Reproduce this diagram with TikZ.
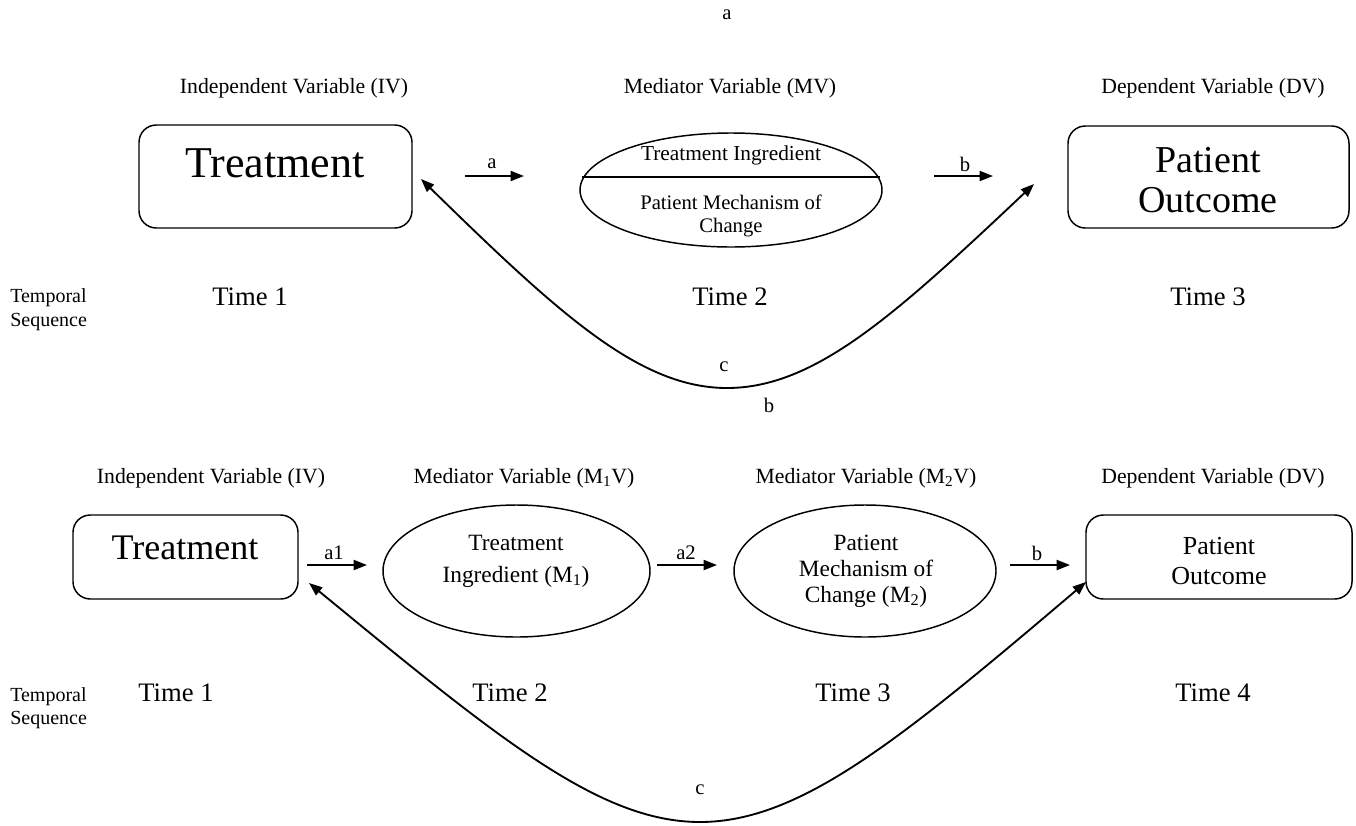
\documentclass[tikz,border=0pt]{standalone}
\usepackage{fontspec}
\setmainfont{Liberation Serif}
\usetikzlibrary{arrows.meta,calc,shapes.geometric}
\begin{document}
\begin{tikzpicture}[x=0.75pt,y=-0.75pt,
 box/.style={draw,line width=1.1pt,rounded corners=13pt,inner sep=0pt,align=center},
 ell/.style={draw,ellipse,line width=1.1pt,inner sep=0pt},
 arr/.style={line width=1.4pt,-{Triangle[length=10pt,width=7.5pt]}},
 curv/.style={line width=1.4pt,{Triangle[length=10pt,width=7.5pt]}-{Triangle[length=10pt,width=7.5pt]}},
 lbl/.style={font=\fontsize{15.5}{18}\selectfont,inner sep=0pt},
 hdr/.style={font=\fontsize{16.3}{19}\selectfont,inner sep=0pt},
 tim/.style={font=\fontsize{20}{24}\selectfont,inner sep=0pt},
 tmp/.style={font=\fontsize{15}{18}\selectfont,inner sep=0pt,align=left,anchor=west},
 txt/.style={inner sep=0pt,align=center}
]
\useasboundingbox (0,0) rectangle (1356,825);

% ---------- panel a ----------
\node[lbl] (capa) at (727,15) {a};
\node[hdr] (h1) at (294,88) {Independent Variable (IV)};
\node[hdr] (h2) at (730,88) {Mediator Variable (MV)};
\node[hdr] (h3) at (1213,88) {Dependent Variable (DV)};

\node[box,minimum width=204.75pt,minimum height=77.25pt] (tr) at (275.5,176.5) {};
\node[txt,font=\fontsize{33}{36}\selectfont] (trt) at (275,163) {Treatment};
\node[ell,minimum width=226.5pt,minimum height=85.5pt] (mv) at (731,190) {};
\draw[line width=1.1pt] ($(mv.center)+(-149,-13)$) coordinate (ml) -- ($(mv.center)+(149,-13)$) coordinate (mr);
\node[txt,font=\fontsize{16}{18}\selectfont] (mvt) at (731,155) {Treatment Ingredient};
\node[txt,font=\fontsize{15.5}{17.3}\selectfont] (mvb) at (731,216) {Patient Mechanism of\\Change};
\node[box,minimum width=210.75pt,minimum height=76.5pt] (po) at (1208.5,177) {};
\node[txt,font=\fontsize{28.5}{30}\selectfont] (pot) at (1208,180) {Patient\\Outcome};

\coordinate (as) at (465,176); \coordinate (ae) at (524,176);
\draw[arr] (as) -- (ae);
\node[lbl] (la) at (492,164) {a};
\coordinate (bs) at (934,176); \coordinate (be) at (993,176);
\draw[arr] (bs) -- (be);
\node[lbl] (lb) at (965,164) {b};

\coordinate (c1s) at (421,179); \coordinate (c1e) at (1034,184);
\draw[curv] (c1s) .. controls (560,315) and (640,388) .. (727,388)
               .. controls (815,388) and (895,315) .. (c1e);
\node[lbl] (lc) at (724,367) {c};
\node[lbl] (capb) at (769,405) {b};

\node[tmp] (ts1) at (10,298) {Temporal};
\node[tmp] (ts1b) at (10,322) {Sequence};
\node[tim] (t11) at (250,297) {Time 1};
\node[tim] (t12) at (730,297) {Time 2};
\node[tim] (t13) at (1208,297) {Time 3};

% ---------- panel b ----------
\node[hdr] (g1) at (211,478) {Independent Variable (IV)};
\node[hdr] (g2) at (524,478) {Mediator Variable (M\textsubscript{1}V)};
\node[hdr] (g3) at (866,478) {Mediator Variable (M\textsubscript{2}V)};
\node[hdr] (g4) at (1213,478) {Dependent Variable (DV)};

\node[box,minimum width=168.75pt,minimum height=63pt] (tr2) at (185.5,557) {};
\node[txt,font=\fontsize{27}{30}\selectfont] (tr2t) at (185,548) {Treatment};
\node[ell,minimum width=200.25pt,minimum height=99pt] (m1) at (516.5,571) {};
\node[txt,font=\fontsize{17.5}{24}\selectfont] (m1t) at (516,561) {Treatment\\Ingredient (M\textsubscript{1})};
\node[ell,minimum width=196.5pt,minimum height=99pt] (m2) at (865,571) {};
\node[txt,font=\fontsize{17.5}{19.5}\selectfont] (m2t) at (866,571) {Patient\\Mechanism of\\Change (M\textsubscript{2})};
\node[box,minimum width=199.5pt,minimum height=63pt] (po2) at (1219,557) {};
\node[txt,font=\fontsize{19.5}{23}\selectfont] (po2t) at (1219,561) {Patient\\Outcome};

\coordinate (a1s) at (307,565); \coordinate (a1e) at (367,565);
\draw[arr] (a1s) -- (a1e);
\node[lbl] (la1) at (334,553) {a1};
\coordinate (a2s) at (657,565); \coordinate (a2e) at (717,565);
\draw[arr] (a2s) -- (a2e);
\node[lbl] (la2) at (686,553) {a2};
\coordinate (b2s) at (1010,565); \coordinate (b2e) at (1070,565);
\draw[arr] (b2s) -- (b2e);
\node[lbl] (lb2) at (1037,553) {b};

\coordinate (c2s) at (309,583); \coordinate (c2e) at (1086,582);
\draw[curv] (c2s) .. controls (500,740) and (600,822) .. (700,822)
               .. controls (800,822) and (900,740) .. (c2e);
\node[lbl] (lc2) at (700,790) {c};

\node[tmp] (ts2) at (10,697) {Temporal};
\node[tmp] (ts2b) at (10,720) {Sequence};
\node[tim] (t21) at (176,693) {Time 1};
\node[tim] (t22) at (510,693) {Time 2};
\node[tim] (t23) at (853,693) {Time 3};
\node[tim] (t24) at (1213,693) {Time 4};
\end{tikzpicture}
\end{document}
